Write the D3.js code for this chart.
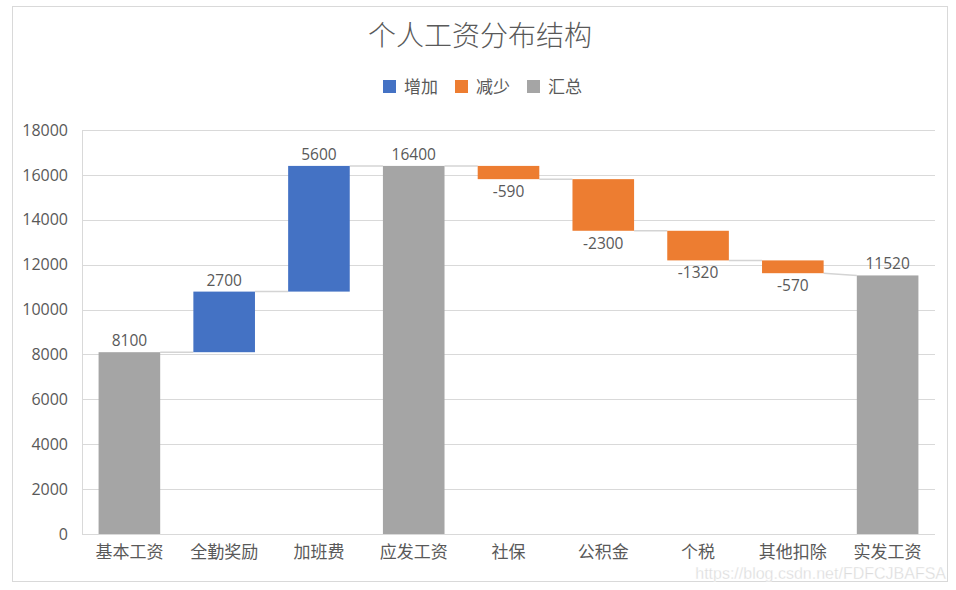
<!DOCTYPE html>
<html>
<head>
<meta charset="utf-8">
<script src="https://cdn.jsdelivr.net/npm/d3@7"></script>
<style>
  body { margin: 0; background: #fff; }
  text { fill: #595959; }
</style>
</head>
<body>
<div id="chart"></div>
<script>
// data
var categories = ["基本工资", "全勤奖励", "加班费", "应发工资", "社保", "公积金", "个税", "其他扣除", "实发工资"];
var values = [8100, 2700, 5600, 16400, -590, -2300, -1320, -570, 11520];
var kinds = ["total", "up", "up", "total", "down", "down", "down", "down", "total"];
var yTicks = [0, 2000, 4000, 6000, 8000, 10000, 12000, 14000, 16000, 18000];
var legendNames = ["增加", "减少", "汇总"];

var colors = { up: "#4472C4", down: "#ED7D31", total: "#A5A5A5" };
var cjk = "'Noto Sans CJK SC', 'Noto Sans', sans-serif";
var num = "'Open Sans', 'Noto Sans', sans-serif";

var width = 956, height = 590;
var svg = d3.select("#chart").append("svg").attr("width", width).attr("height", height);

// outer chart frame
svg.append("rect")
    .attr("x", 12.5).attr("y", 6.5)
    .attr("width", 935).attr("height", 575)
    .style("fill", "#fff").style("stroke", "#d9d9d9");

// running bases: totals start at 0, deltas continue from last end
var bars = [];
var run = 0;
values.forEach(function(v, i) {
    var start, end;
    if (kinds[i] == "total") { start = 0; end = v; run = v; }
    else { start = run; end = run + v; run = end; }
    bars.push({ name: categories[i], value: v, kind: kinds[i], start: start, end: end });
});

var x = d3.scaleBand().domain(categories).range([82, 935]).paddingInner(0.35).paddingOuter(0.175);
var y = d3.scaleLinear().domain([0, 18000]).range([534, 130]);

// gridlines
svg.append("g").selectAll("line")
    .data(yTicks)
    .enter().append("line")
        .attr("x1", 82).attr("x2", 935)
        .attr("y1", function(d) { return Math.round(y(d)) + 0.5; })
        .attr("y2", function(d) { return Math.round(y(d)) + 0.5; })
        .style("stroke", "#d9d9d9").style("stroke-width", 1);

// left axis line
svg.append("line")
    .attr("x1", 82.5).attr("x2", 82.5).attr("y1", y(18000)).attr("y2", y(0))
    .style("stroke", "#d9d9d9");

// y axis labels
var yAxis = svg.append("g").attr("transform", "translate(82,0)")
    .call(d3.axisLeft(y).tickValues(yTicks).tickSize(0).tickPadding(14).tickFormat(d3.format("d")));
yAxis.select(".domain").remove();
yAxis.selectAll("text").style("font-family", num).style("font-size", "16px").style("fill", "#595959");

// x axis labels
var xAxis = svg.append("g").attr("transform", "translate(0,534)")
    .call(d3.axisBottom(x).tickSize(0).tickPadding(12));
xAxis.select(".domain").remove();
xAxis.selectAll("text").style("font-family", cjk).style("font-size", "17px").style("fill", "#595959");

// connectors between bars
svg.append("g").selectAll("line")
    .data(bars.slice(0, -1))
    .enter().append("line")
        .attr("x1", function(d) { return x(d.name) + x.bandwidth(); })
        .attr("x2", function(d, i) { return x(bars[i + 1].name); })
        .attr("y1", function(d) { return y(d.end); })
        .attr("y2", function(d, i) { return y(bars[i + 1].kind == "total" ? bars[i + 1].value : bars[i + 1].start); })
        .style("stroke", "#d4d4d4").style("stroke-width", 1.5);

// bars
svg.append("g").selectAll("rect")
    .data(bars)
    .enter().append("rect")
        .attr("x", function(d) { return x(d.name); })
        .attr("width", x.bandwidth())
        .attr("y", function(d) { return y(Math.max(d.start, d.end)); })
        .attr("height", function(d) { return Math.abs(y(d.start) - y(d.end)); })
        .style("fill", function(d) { return colors[d.kind]; });

// data labels
svg.append("g").selectAll("text")
    .data(bars)
    .enter().append("text")
        .attr("x", function(d) { return x(d.name) + x.bandwidth() / 2; })
        .attr("y", function(d) {
            if (d.kind == "down") return y(d.end) + 18;
            return y(d.end) - 6;
        })
        .attr("text-anchor", "middle")
        .style("font-family", num).style("font-size", "15.5px")
        .text(function(d) { return d.value; });

// title
svg.append("text")
    .attr("x", 480).attr("y", 46)
    .attr("text-anchor", "middle")
    .style("font-family", cjk).style("font-size", "28px").style("font-weight", 300)
    .text("个人工资分布结构");

// legend
var legend = svg.append("g").selectAll("g")
    .data(legendNames)
    .enter().append("g")
        .attr("transform", function(d, i) { return "translate(" + (383 + i * 72) + ",80)"; });
legend.append("rect")
    .attr("width", 13).attr("height", 13)
    .style("fill", function(d, i) { return colors[["up", "down", "total"][i]]; });
legend.append("text")
    .attr("x", 21).attr("y", 12.5)
    .style("font-family", cjk).style("font-size", "17px")
    .text(function(d) { return d; });

// watermark
svg.append("text")
    .attr("x", 946).attr("y", 579)
    .attr("text-anchor", "end")
    .style("font-family", "'Liberation Sans', sans-serif").style("font-size", "16px")
    .style("fill", "#dcdcdc").style("stroke", "#fff").style("stroke-width", 0.3)
    .text("https://blog.csdn.net/FDFCJBAFSA");
</script>
</body>
</html>
